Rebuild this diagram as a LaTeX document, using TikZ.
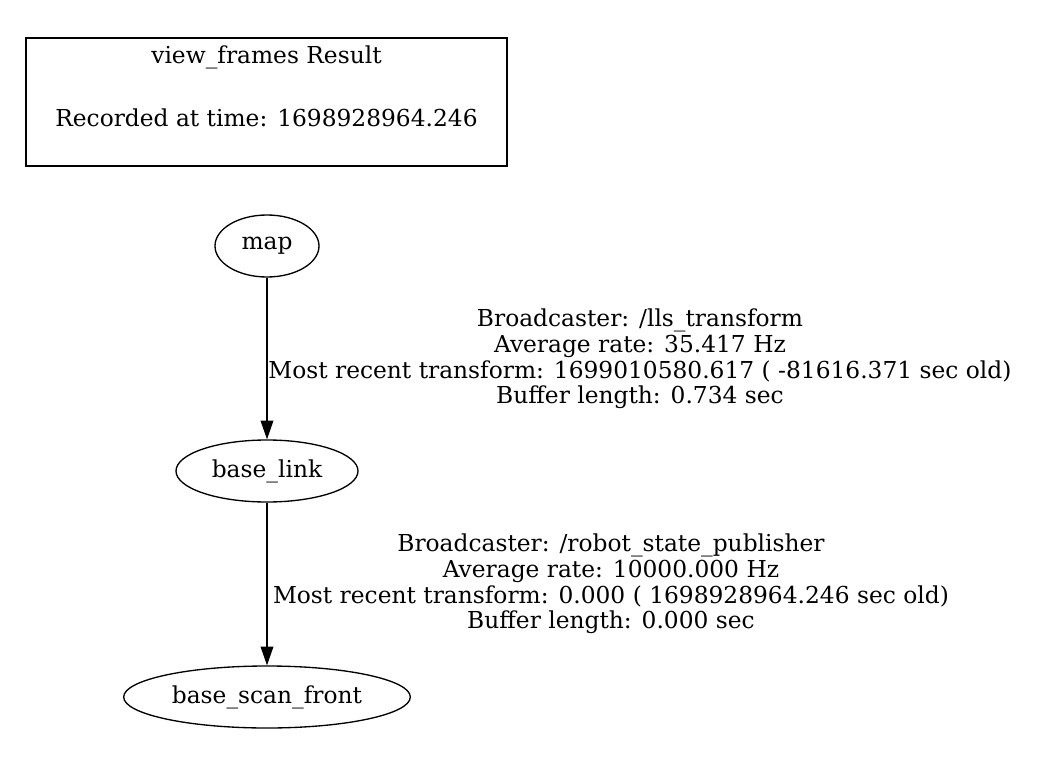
\documentclass[tikz,border=0pt]{standalone}
\usepackage{fontspec}
\setmainfont{DejaVu Serif}
\usepackage{tikz}
\usetikzlibrary{shapes.geometric, arrows.meta}

\begin{document}
\begin{tikzpicture}[
    x=0.75pt, y=-0.75pt,
    frame/.style={
        ellipse,
        draw=black,
        line width=1pt,
        inner sep=0pt,
        minimum height=46.5pt,
        font=\fontsize{17.5}{21}\selectfont
    },
    infobox/.style={
        draw=black,
        line width=2pt,
        inner sep=0pt,
        minimum width=360.75pt,
        minimum height=96pt,
        align=center,
        font=\fontsize{17.5}{23.6}\selectfont
    },
    edgelabel/.style={
        align=center,
        inner sep=0pt,
        font=\fontsize{17.5}{19.3}\selectfont
    },
    arrow/.style={-{Triangle[length=14pt, width=9.5pt]}, line width=1pt}
]
\useasboundingbox (0,0) rectangle (1061,774);

\node[infobox] (result) at (266.5,102) {view\_frames Result\\\mbox{}\\Recorded at time: 1698928964.246\\\mbox{}};

\node[frame, minimum width=78pt] (map) at (267,246) {map};
\node[frame, minimum width=136.5pt] (base_link) at (267,471) {base\_link};
\node[frame, minimum width=215pt] (base_scan_front) at (267,697) {base\_scan\_front};

\node[edgelabel] (tf_map) at (640,359) {Broadcaster: /lls\_transform\\Average rate: 35.417 Hz\\Most recent transform: 1699010580.617 ( -81616.371 sec old)\\Buffer length: 0.734 sec};
\node[edgelabel] (tf_link) at (611,584) {Broadcaster: /robot\_state\_publisher\\Average rate: 10000.000 Hz\\Most recent transform: 0.000 ( 1698928964.246 sec old)\\Buffer length: 0.000 sec};

\draw[arrow] (map) -- (base_link);
\draw[arrow] (base_link) -- (base_scan_front);

\end{tikzpicture}
\end{document}
